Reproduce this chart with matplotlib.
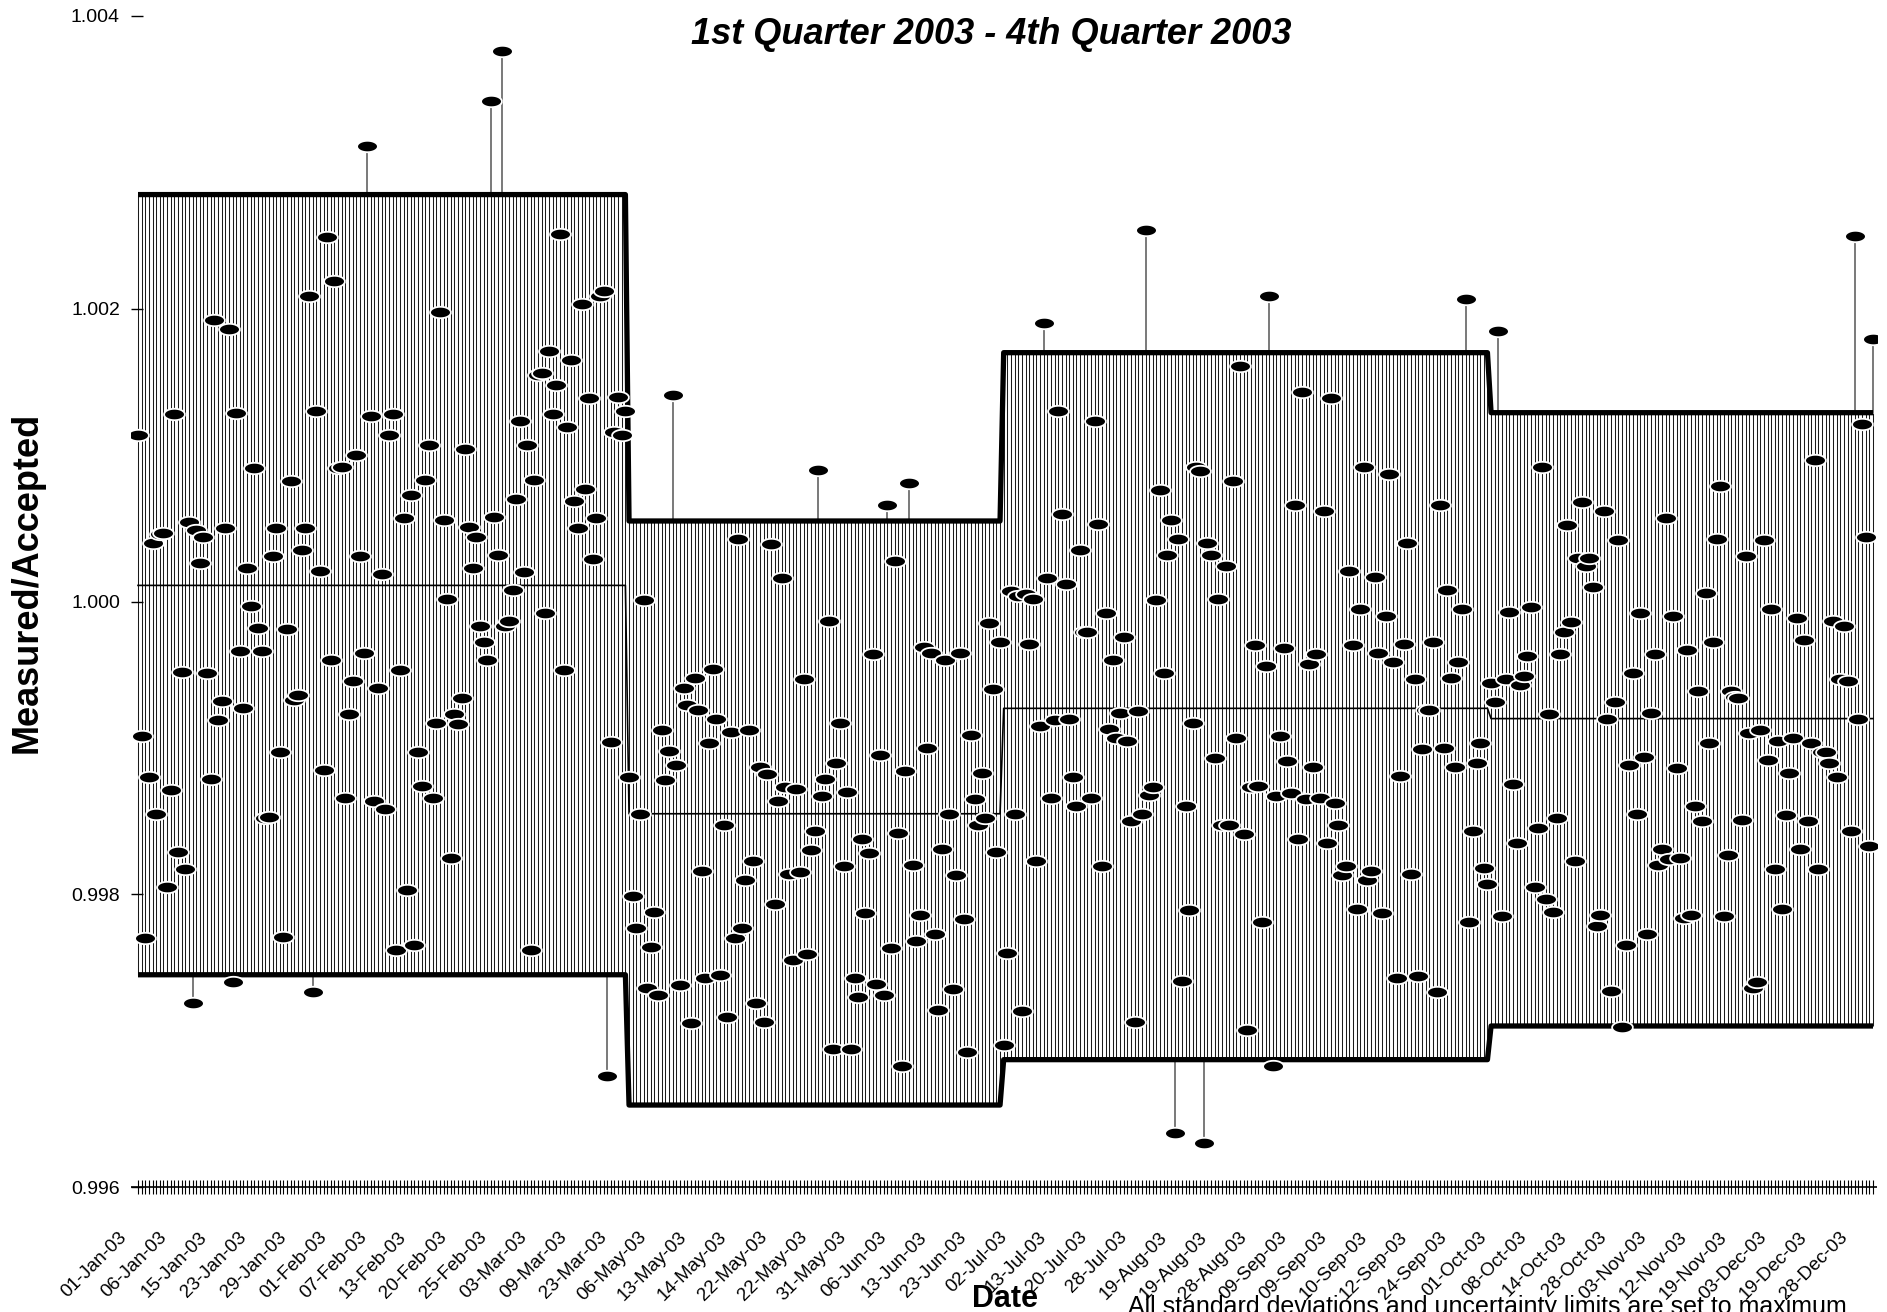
"""Measured/accepted control chart, one point per measurement, 2003."""

import numpy as np
import matplotlib

matplotlib.use("Agg")
import matplotlib.pyplot as plt
from matplotlib.path import Path
from matplotlib.transforms import ScaledTranslation

# measured/accepted ratios, in measurement order, one list per quarter
ratio_q1 = [
    1.00114, 0.99908, 0.99770, 0.99880, 1.00040, 0.99855, 1.00046, 1.00047, 0.99805, 0.99871,
    1.00128, 0.99829, 0.99952, 0.99817, 1.00054, 0.99726, 1.00049, 1.00026, 1.00044, 0.99951,
    0.99879, 1.00192, 0.99919, 0.99932, 1.00050, 1.00186, 0.99740, 1.00129, 0.99966, 0.99927,
    1.00023, 0.99997, 1.00091, 0.99982, 0.99966, 0.99852, 0.99853, 1.00031, 1.00050, 0.99897,
    0.99771, 0.99981, 1.00082, 0.99933, 0.99936, 1.00035, 1.00050, 1.00209, 0.99733, 1.00130,
    1.00021, 0.99885, 1.00249, 0.99960, 1.00219, 1.00091, 1.00092, 0.99866, 0.99923, 0.99946,
    1.00100, 1.00031, 0.99965, 1.00311, 1.00127, 0.99864, 0.99941, 1.00019, 0.99858, 1.00114,
    1.00128, 0.99762, 0.99953, 1.00057, 0.99803, 1.00073, 0.99765, 0.99897, 0.99874, 1.00083,
    1.00107, 0.99866, 0.99917, 1.00198, 1.00056, 1.00002, 0.99825, 0.99923, 0.99916, 0.99934,
    1.00104, 1.00051, 1.00023, 1.00044, 0.99983,
    0.99972, 0.99960, 1.00342, 1.00058, 1.00032, 1.00376, 0.99983, 0.99987, 1.00008, 1.00070,
    1.00123, 1.00020, 1.00107, 0.99762, 1.00083, 1.00155, 1.00156, 0.99992, 1.00171, 1.00128,
    1.00148, 1.00251, 0.99953, 1.00119, 1.00165, 1.00069, 1.00050, 1.00203, 1.00077, 1.00139,
    1.00029, 1.00057, 1.00209, 1.00212, 0.99676, 0.99904, 1.00116, 1.00140, 1.00114, 1.00130,
]
ratio_q2 = [
    0.99880, 0.99799, 0.99777, 0.99855, 1.00001, 0.99736, 0.99764, 0.99788, 0.99731, 0.99912,
    0.99878, 0.99898, 1.00141, 0.99888, 0.99738, 0.99941, 0.99929, 0.99712, 0.99948, 0.99926,
    0.99816, 0.99743, 0.99903, 0.99954, 0.99920, 0.99745, 0.99847, 0.99716, 0.99911, 0.99770,
    1.00043, 0.99777, 0.99810, 0.99912, 0.99823, 0.99726, 0.99887, 0.99713, 0.99882, 1.00039,
    0.99793, 0.99864, 1.00016, 0.99873, 0.99814, 0.99755, 0.99872, 0.99815, 0.99947, 0.99759,
    0.99830, 0.99843, 1.00090, 0.99867, 0.99879, 0.99987,
    0.99694, 0.99890, 0.99917, 0.99819, 0.99870, 0.99694, 0.99743, 0.99730, 0.99838, 0.99787,
    0.99828, 0.99964, 0.99739, 0.99895, 0.99731, 1.00066, 0.99763, 1.00028, 0.99842, 0.99683,
    0.99884, 1.00081, 0.99820, 0.99768, 0.99786, 0.99969, 0.99900, 0.99965, 0.99773, 0.99721,
    0.99831, 0.99960, 0.99855, 0.99735, 0.99813, 0.99965, 0.99783, 0.99692, 0.99909, 0.99865,
    0.99847, 0.99883, 0.99852, 0.99985, 0.99940, 0.99829, 0.99972,
]
ratio_q3 = [
    0.99697, 0.99760, 1.00007, 0.99855, 1.00004, 0.99720, 1.00005, 0.99971, 1.00002, 0.99823,
    0.99915, 1.00190, 1.00016, 0.99866, 0.99919, 1.00130, 1.00060, 1.00012, 0.99920, 0.99880,
    0.99860, 1.00035, 0.99979, 0.99979, 0.99866, 1.00123, 1.00053, 0.99819, 0.99992, 0.99913,
    0.99960, 0.99907, 0.99924, 0.99976, 0.99905, 0.99850, 0.99713, 0.99925, 0.99855, 1.00254,
    0.99868, 0.99873, 1.00001, 1.00076, 0.99951, 1.00032, 1.00056, 0.99637, 1.00043, 0.99741,
    0.99860, 0.99789, 0.99917, 1.00092, 1.00089, 0.99630, 1.00040, 1.00032, 0.99893, 1.00002,
    0.99847, 1.00024, 0.99847, 1.00082, 0.99907, 1.00161, 0.99841, 0.99707, 0.99873, 0.99970,
    0.99874, 0.99781, 0.99956, 1.00209, 0.99683, 0.99867, 0.99908, 0.99968, 0.99891, 0.99869,
    1.00066, 0.99838, 1.00143, 0.99865, 0.99957, 0.99887, 0.99964, 0.99866, 1.00062, 0.99835,
    1.00139, 0.99862, 0.99847, 0.99813, 0.99819, 1.00021, 0.99970, 0.99790, 0.99995, 1.00092,
    0.99810, 0.99816, 1.00017, 0.99965, 0.99787, 0.99990, 1.00087, 0.99959, 0.99743, 0.99881,
    0.99971, 1.00040, 0.99814, 0.99947, 0.99744, 0.99899, 0.99926, 0.99926, 0.99972, 0.99733,
    1.00066, 0.99900, 1.00008, 0.99948, 0.99887, 0.99959, 0.99995, 1.00207, 0.99781, 0.99843,
    0.99890, 0.99903, 0.99818, 0.99807,
]
ratio_q4 = [
    0.99944, 0.99931, 1.00185, 0.99785, 0.99947, 0.99993, 0.99875, 0.99835, 0.99943, 0.99949,
    0.99963, 0.99996, 0.99805,
    0.99845, 1.00092, 0.99797, 0.99923, 0.99788, 0.99852, 0.99964, 0.99979, 1.00052, 0.99986,
    0.99823, 1.00030, 1.00068, 1.00024, 1.00030, 1.00010, 0.99778, 0.99786, 1.00062, 0.99920,
    0.99734, 0.99931, 1.00042, 0.99709, 0.99765, 0.99888, 0.99951, 0.99855, 0.99992, 0.99894,
    0.99773, 0.99924, 0.99964, 0.99820, 0.99831, 1.00057, 0.99824, 0.99990, 0.99886, 0.99825,
    0.99784, 0.99967, 0.99786, 0.99860, 0.99939, 0.99850, 1.00006, 0.99903, 0.99972, 1.00043,
    1.00079, 0.99785, 0.99827, 0.99939, 0.99935, 0.99934, 0.99851, 1.00031, 0.99910, 0.99736,
    0.99740, 0.99912, 1.00042, 0.99892, 0.99995, 0.99817, 0.99905, 0.99790, 0.99854, 0.99883,
    0.99907, 0.99989, 0.99831, 0.99974, 0.99850, 0.99903, 1.00097, 0.99817, 0.99897, 0.99897,
    0.99890, 0.99987, 0.99880, 0.99947, 0.99983, 0.99946, 0.99843, 1.00250, 0.99920, 1.00121,
    1.00044, 0.99833, 1.00179,
]

# quarterly limits
upper_limits = [1.00278, 1.00055, 1.00170, 1.00129]
lower_limits = [0.99745, 0.99656, 0.99687, 0.99710]
center_lines = [1.00011, 0.99855, 0.99927, 0.99920]

# date labels, one every 11 measurements
tick_dates = [
    "01-Jan-03", "06-Jan-03", "15-Jan-03", "23-Jan-03", "29-Jan-03", "01-Feb-03",
    "07-Feb-03", "13-Feb-03", "20-Feb-03", "25-Feb-03", "03-Mar-03", "09-Mar-03",
    "23-Mar-03", "06-May-03", "13-May-03", "14-May-03", "22-May-03", "22-May-03",
    "31-May-03", "06-Jun-03", "13-Jun-03", "23-Jun-03", "02-Jul-03", "13-Jul-03",
    "20-Jul-03", "28-Jul-03", "19-Aug-03", "19-Aug-03", "28-Aug-03", "09-Sep-03",
    "09-Sep-03", "10-Sep-03", "12-Sep-03", "24-Sep-03", "01-Oct-03", "08-Oct-03",
    "14-Oct-03", "28-Oct-03", "03-Nov-03", "12-Nov-03", "19-Nov-03", "03-Dec-03",
    "19-Dec-03", "28-Dec-03",
]
label_step = 11
y_ticks = [0.996, 0.998, 1.000, 1.002, 1.004]

plt.rcParams["font.family"] = ["Liberation Sans", "DejaVu Sans"]

quarters = [ratio_q1, ratio_q2, ratio_q3, ratio_q4]
counts = [len(q) for q in quarters]
ratios = np.concatenate(quarters)
n = len(ratios)
idx = np.arange(n)
upper = np.repeat(upper_limits, counts)
lower = np.repeat(lower_limits, counts)
center = np.repeat(center_lines, counts)

W, H = 1887, 1312
fig = plt.figure(figsize=(W / 100, H / 100), dpi=100)
ax = fig.add_axes([131 / W, 125 / H, 1746 / W, 1171 / H])
step_px = (1873 - 138) / (n - 1)
x_left = -(138 - 131) / step_px
x_right = (n - 1) + (1877 - 1873) / step_px
ax.set_xlim(x_left, x_right)
ax.set_ylim(y_ticks[0], y_ticks[-1])
for side in ax.spines.values():
    side.set_visible(False)

# vertical hatching between limits
ax.vlines(idx, lower, upper, color="#1a1a1a", lw=0.75, zorder=1)
ax.plot(idx, upper, color="black", lw=3.8, solid_capstyle="butt", zorder=3)
ax.plot(idx, lower, color="black", lw=3.8, solid_capstyle="butt", zorder=3)
ax.plot(idx, center, color="black", lw=1.2, zorder=3)

# stems for points outside the limits
above = ratios > upper
below = ratios < lower
ax.vlines(idx[above], upper[above], ratios[above], color="#555555", lw=1.1, zorder=2)
ax.vlines(idx[below], ratios[below], lower[below], color="#555555", lw=1.1, zorder=2)

theta = np.linspace(0, 2 * np.pi, 41)
ellipse = Path(np.column_stack([np.cos(theta), 0.55 * np.sin(theta)]))
ax.plot(idx, ratios, ls="none", marker=ellipse, ms=15, mfc="black",
        mec="white", mew=1.3, zorder=4)

# x axis with a tick for every measurement
ax.hlines(y_ticks[0], x_left, x_right, color="black", lw=1.2, clip_on=False, zorder=3)
ax.plot(idx, np.full(n, y_ticks[0]), ls="none", marker="|", ms=10, mew=0.8,
        color="black", clip_on=False, zorder=3)

ax.set_yticks(y_ticks, [f"{v:.3f}" for v in y_ticks])
ax.tick_params(axis="y", direction="in", length=8.6, width=1, pad=8, labelsize=14)

ax.set_xticks(idx[::label_step], tick_dates)
ax.tick_params(axis="x", length=0, pad=30, labelsize=13.5)
shift = ScaledTranslation(-20 / 100, 0, fig.dpi_scale_trans)
for label in ax.get_xticklabels():
    label.set_rotation(45)
    label.set_ha("right")
    label.set_va("top")
    label.set_rotation_mode("anchor")
    label.set_transform(label.get_transform() + shift)

fig.text(991 / W, 1 - 34 / H, "1st Quarter 2003 - 4th Quarter 2003",
         ha="center", va="center", fontsize=26, fontweight="bold", fontstyle="italic")
fig.text(27 / W, 1 - 582 / H, "Measured/Accepted", rotation=90,
         ha="center", va="center", fontsize=26, fontweight="bold")
fig.text(1005 / W, 1 - 1307 / H, "Date", ha="center", va="baseline",
         fontsize=22, fontweight="bold")
fig.text(1128 / W, 1 - 1314 / H,
         "All standard deviations and uncertainty limits are set to maximum",
         ha="left", va="baseline", fontsize=18)

fig.savefig("out.png", dpi=100, facecolor="white")
